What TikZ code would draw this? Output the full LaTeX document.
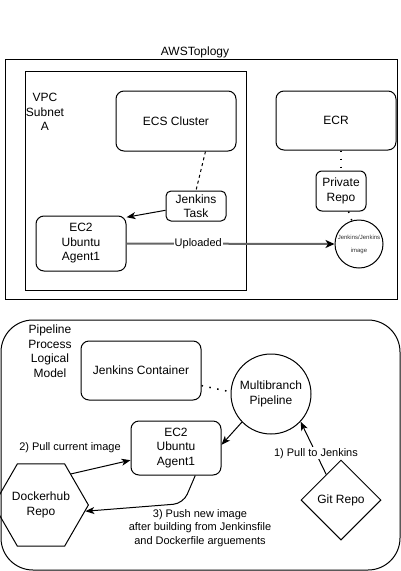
\documentclass[tikz,border=0pt]{standalone}
\usepackage{fontspec}
\setmainfont{Liberation Sans}
\usetikzlibrary{positioning,calc,shapes.geometric,arrows.meta}
\tikzset{box/.style={draw, rounded corners=8pt, align=center,
    inner sep=0pt}, frame/.style={draw, inner sep=0pt},
  lbl/.style={align=center, inner sep=1pt,
    font=\fontsize{11}{13.5}\selectfont},
  tip/.style={-{Stealth[length=9pt,width=7pt,inset=2.5pt]}},
  dots/.style={line width=1.5pt, dash pattern=on 1.5pt off 6.5pt}}

\begin{document}
\begin{tikzpicture}[x=1pt, y=-1pt, line width=1pt,
    font=\fontsize{12}{14.5}\selectfont]
  \useasboundingbox (0,0) rectangle (401,571);
  \node (Title) at (195,52) {AWSToplogy};
  \node[frame, minimum width=392, minimum height=240] (AWS) at
  (201,179) {}; \node[frame, minimum width=221, minimum
  height=219] (VPC) at (135.5,180.5) {}; \node[align=center] (Sub)
  at (45,112) {VPC\\Subnet\\A};

  \node[box, minimum width=120, minimum height=60] (ECS) at
  (176,121) {ECS Cluster}; \node[box, minimum width=120, minimum
  height=59] (ECR) at (336,120.5) {ECR}; \node[box, rounded
  corners=6pt, minimum width=50, minimum height=40] (Repo) at
  (341,191) {Private\\Repo}; \node[box, rounded corners=5pt,
  minimum width=60, minimum height=30] (Task) at (196,206)
  {Jenkins\\Task}; \node[box, minimum width=90, minimum
  height=55] (EC2a) at (81,243.5) {EC2\\Ubuntu\\Agent1};
  \node[draw, circle, minimum size=48, inner sep=0pt,
  align=center, text=black!80, font=\fontsize{6}{7}\selectfont]
  (Img) at (359,244) {Jenkins/Jenkins\\[6pt]image};

  \draw[dash pattern=on 3pt off 3pt] (ECS.-46) -- (Task.north);
  \draw[tip] (Task.188) -- (EC2a.30); \draw[-{Stealth[length=9pt,
  width=8pt, inset=2.5pt, black]}, black!60, line width=2pt]
  (EC2a.east) -- node[lbl, fill=white, text=black, pos=0.345]
  {Uploaded} (Img.west); \draw[dots] (Repo.north |- ECR.south) --
  (Repo.north); \draw[dots] (Repo.-70) -- (Img.107);

  \node[box, rounded corners=32pt, minimum width=399, minimum
  height=250] (Pipe) at (200.5,445) {}; \node[align=center] (Proc)
  at (50,351) {Pipeline\\Process\\Logical\\Model};
  \node[box, minimum width=120, minimum height=59] (Cont) at
  (141,370.5) {Jenkins Container}; \node[draw, circle, minimum
  size=80, inner sep=0pt, align=center] (MB) at (271,394)
  {Multibranch\\Pipeline}; \node[box, minimum width=90, minimum
  height=54] (EC2b) at (176,448) {EC2\\Ubuntu\\Agent1};
  \node[draw, diamond, minimum width=80, minimum height=80, inner
  sep=0pt] (Git) at (341,500) {Git Repo}; \node[draw, regular
  polygon, regular polygon sides=6, minimum size=78, inner sep=0pt,
  align=center] (Hex) at (41,505) {Dockerhub\\Repo};

  \draw[dots] (Cont.-14) -- (MB.177); \draw[tip] (MB.224) --
  (EC2b.4); \draw[tip] (Git.120) -- node[lbl, fill=white, pos=0.4]
  {1) Pull to Jenkins} (MB.-43); \draw[tip] (Hex.46) --
  (EC2b.195); \node[lbl] (L2) at (70,448) {2) Pull current image};
  \draw[tip, rounded corners=10pt] (EC2b.-55) -- ++(-12,28) --
  (Hex.-8); \node[lbl] (L3) at (200,528) {3) Push new
  image\\after building from Jenkinsfile\\and Dockerfile
  arguements};
\end{tikzpicture}
\end{document}
